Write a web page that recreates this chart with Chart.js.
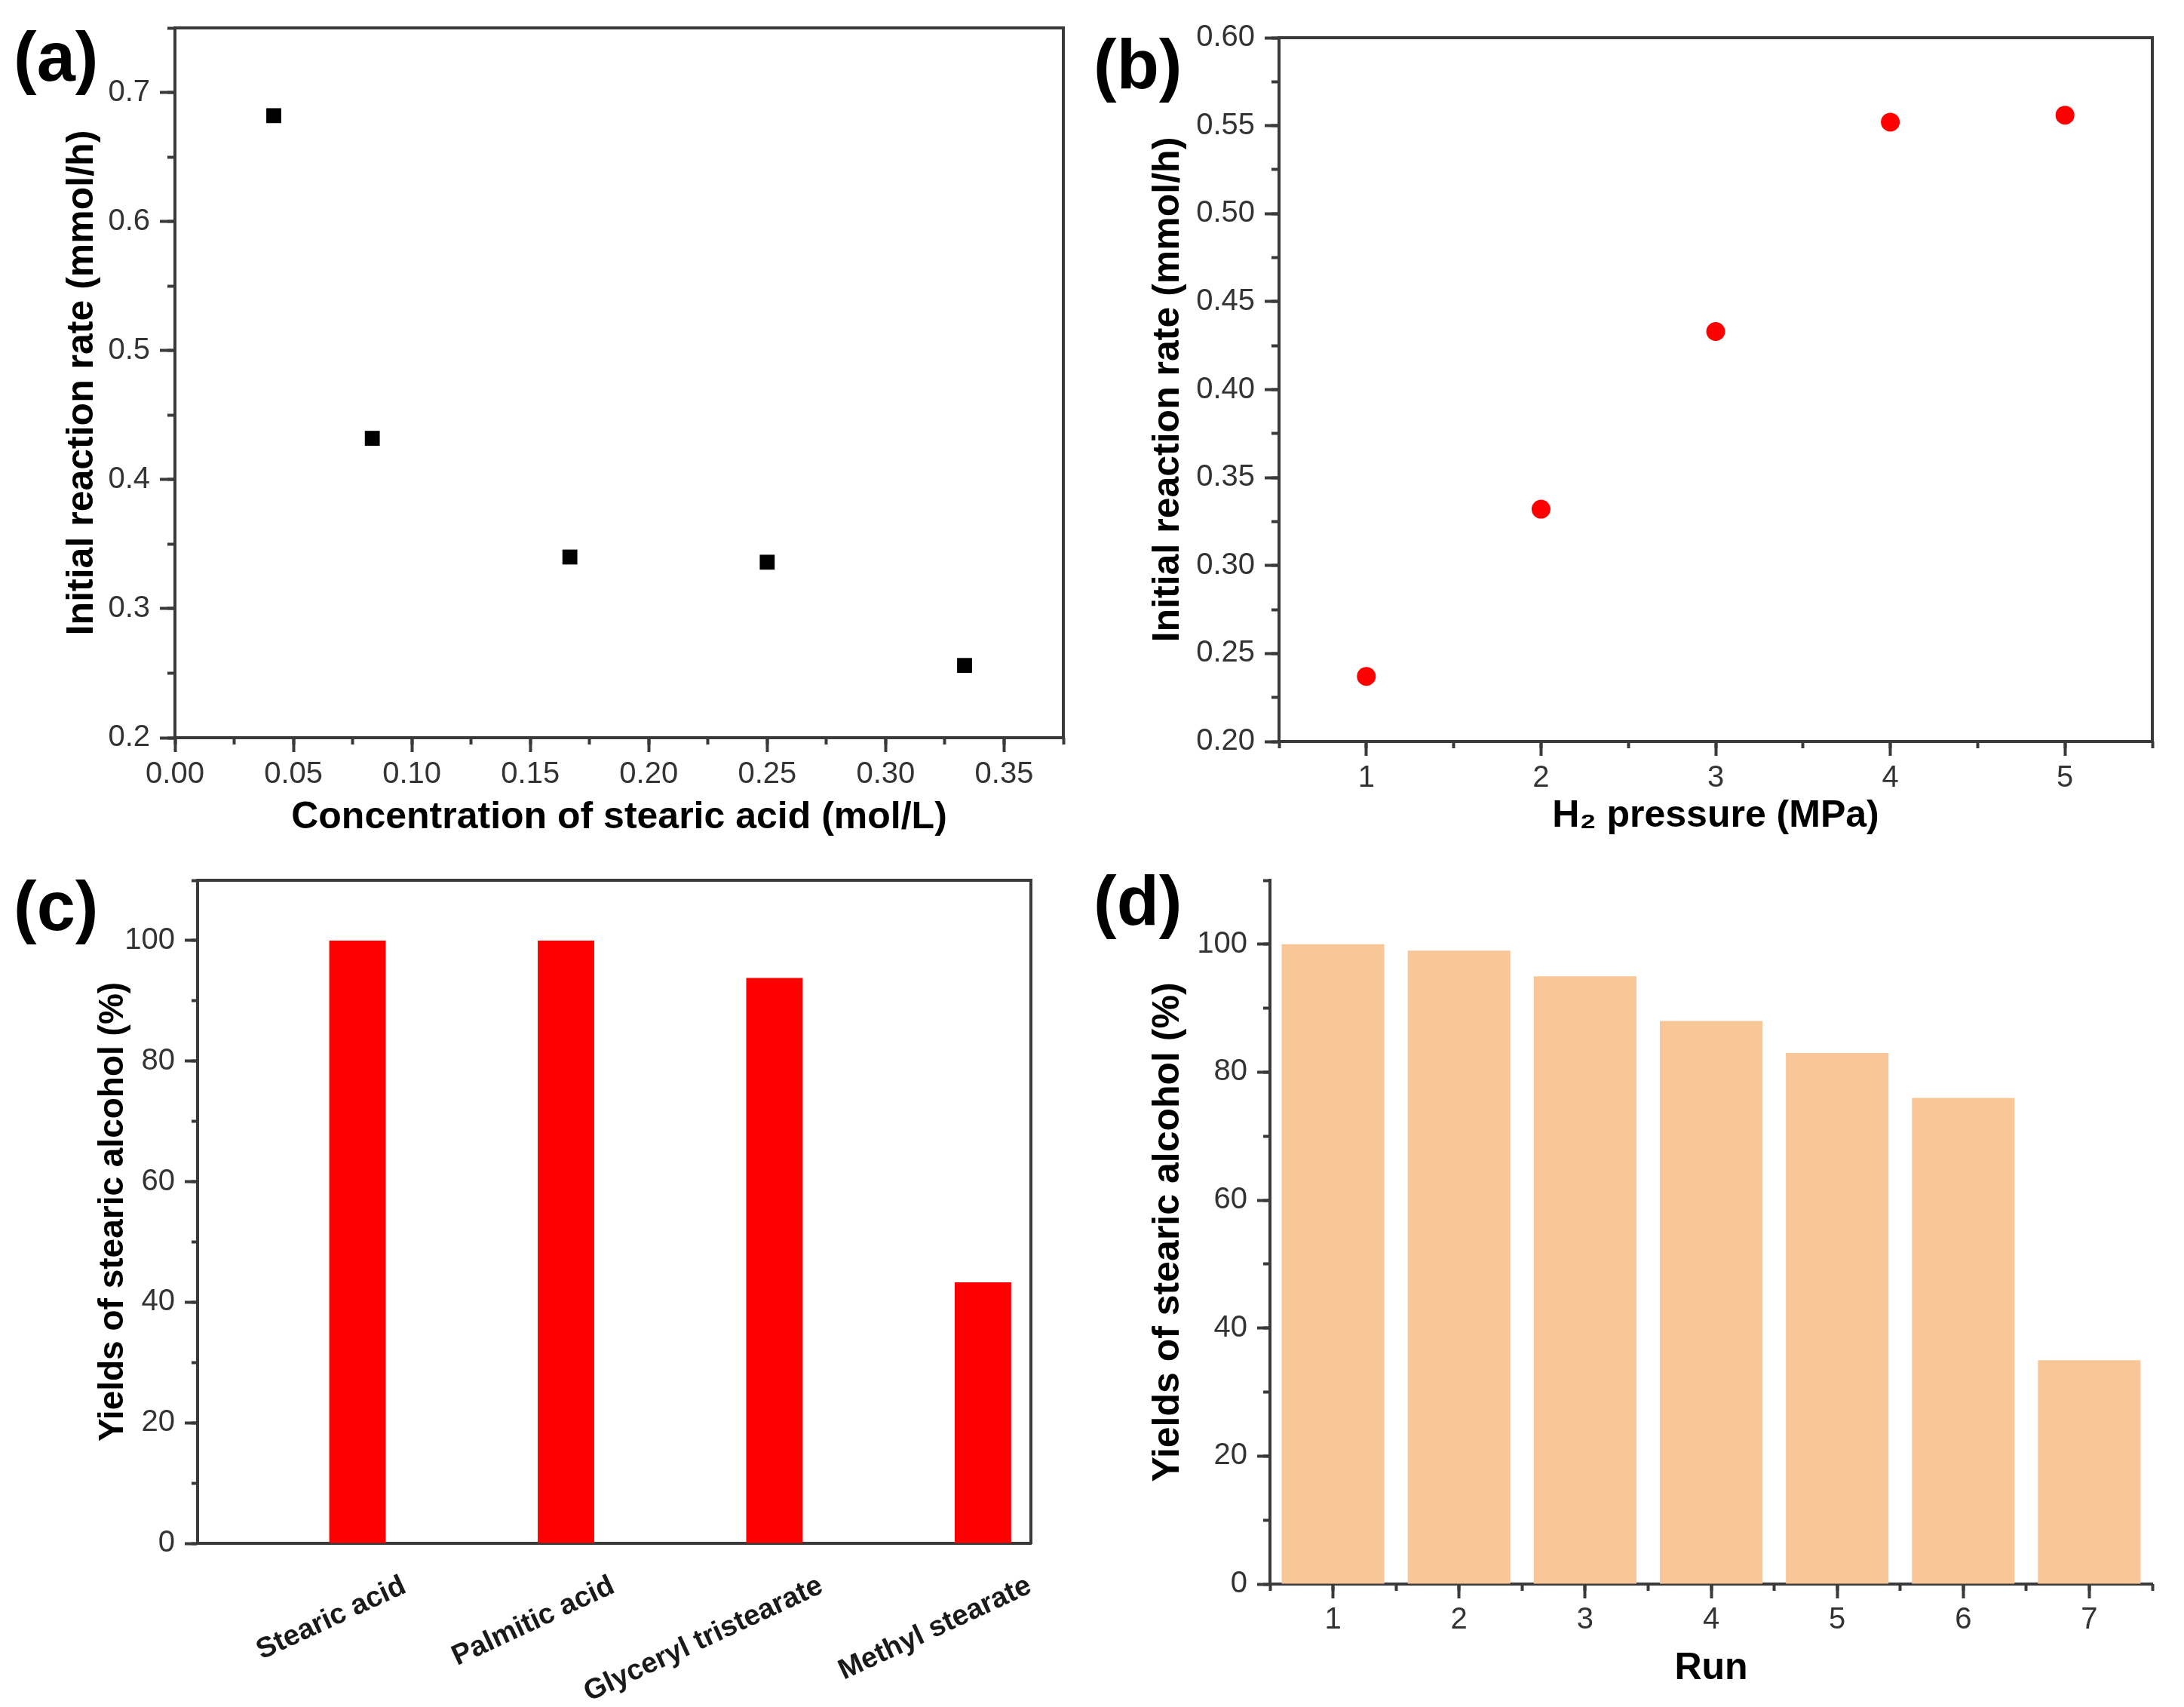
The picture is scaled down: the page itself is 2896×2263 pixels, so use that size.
<!DOCTYPE html>
<html>
<head>
<meta charset="utf-8">
<script src="https://cdn.jsdelivr.net/npm/chart.js@4.4.1/dist/chart.umd.min.js"></script>
<style>
html, body { margin:0; padding:0; background:#fff; width:2896px; height:2263px; overflow:hidden; }
canvas { position:absolute; }
.lbl { position:absolute; font-family:"Liberation Sans", Arial, Helvetica, sans-serif; font-weight:bold; font-size:92px; line-height:92px; color:#000; white-space:nowrap; }
</style>
</head>
<body>
<div class="lbl" style="left:18px;top:29px;">(a)</div>
<div class="lbl" style="left:1450px;top:39px;">(b)</div>
<div class="lbl" style="left:18px;top:1155px;">(c)</div>
<div class="lbl" style="left:1450px;top:1148px;">(d)</div>

<canvas id="ca" width="1371" height="1114" style="left:79px;top:0px;width:1371px;height:1114px;"></canvas>
<canvas id="cb" width="1377" height="1112" style="left:1519px;top:0px;width:1377px;height:1112px;"></canvas>
<canvas id="cc" width="1297" height="1133" style="left:123px;top:1130px;width:1297px;height:1133px;"></canvas>
<canvas id="cd" width="1377" height="1112" style="left:1519px;top:1130px;width:1377px;height:1112px;"></canvas>

<script>
// ---------------- data ----------------
const concentrationA = [0.0417, 0.0833, 0.1667, 0.25, 0.3333];
const rateA = [0.682, 0.432, 0.340, 0.336, 0.256];

const pressureB = [1, 2, 3, 4, 5];
const rateB = [0.237, 0.332, 0.433, 0.552, 0.556];

const substratesC = ['Stearic acid', 'Palmitic acid', 'Glyceryl tristearate', 'Methyl stearate'];
const positionsC = [1, 2, 3, 4];
const yieldC = [100, 100, 93.8, 43.3];

const runsD = [1, 2, 3, 4, 5, 6, 7];
const yieldD = [100, 99, 95, 88, 83, 76, 35];

// ---------------- tick values ----------------
const ticksAx = [0, 0.05, 0.10, 0.15, 0.20, 0.25, 0.30, 0.35];
const minorAx = [0, 0.025, 0.05, 0.075, 0.10, 0.125, 0.15, 0.175, 0.20, 0.225, 0.25, 0.275, 0.30, 0.325, 0.35, 0.375];
const ticksAy = [0.2, 0.3, 0.4, 0.5, 0.6, 0.7];
const minorAy = [0.2, 0.25, 0.3, 0.35, 0.4, 0.45, 0.5, 0.55, 0.6, 0.65, 0.7, 0.75];

const ticksBx = [1, 2, 3, 4, 5];
const minorBx = [0.5, 1, 1.5, 2, 2.5, 3, 3.5, 4, 4.5, 5, 5.5];
const ticksBy = [0.20, 0.25, 0.30, 0.35, 0.40, 0.45, 0.50, 0.55, 0.60];
const minorBy = [0.200, 0.225, 0.250, 0.275, 0.300, 0.325, 0.350, 0.375, 0.400, 0.425, 0.450, 0.475, 0.500, 0.525, 0.550, 0.575, 0.600];

const ticksYield = [0, 20, 40, 60, 80, 100];
const minorYield = [0, 10, 20, 30, 40, 50, 60, 70, 80, 90, 100, 110];

const ticksDx = [1, 2, 3, 4, 5, 6, 7];
const minorDx = [0.5, 1, 1.5, 2, 2.5, 3, 3.5, 4, 4.5, 5, 5.5, 6, 6.5, 7, 7.5];

// ---------------- styling helpers ----------------
const FONT = '"Liberation Sans", Arial, Helvetica, sans-serif';
const AX = '#3a3a3a';
Chart.defaults.font.family = FONT;
Chart.defaults.color = '#333';

function setTicks(values) {
  return s => { s.ticks = values.map(v => ({ value: v })); };
}
function isH(pos) { return pos === 'top' || pos === 'bottom'; }

function mainAxis(o) {
  return {
    type: 'linear', position: o.pos, min: o.min, max: o.max, weight: 2,
    bounds: 'data', offset: false,
    afterBuildTicks: setTicks(o.values),
    afterFit: s => { if (isH(o.pos)) s.height = o.size; else s.width = o.size; },
    grid: { display: true, offset: false, drawOnChartArea: false, drawTicks: o.tl > 0, tickLength: o.tl, tickColor: AX, tickWidth: 4 },
    border: { display: true, color: AX, width: 4 },
    ticks: {
      autoSkip: false, padding: o.pad, color: o.tickColor || '#333',
      font: { size: o.tickSize || 40, family: FONT, weight: o.tickWeight || 'normal' },
      minRotation: o.rot || 0, maxRotation: o.rot || 0,
      labelOffset: o.labelOffset || 0,
      callback: o.fmt
    },
    title: o.title ? { display: true, text: o.title, color: '#000', padding: 0,
      font: { size: o.titleSize || 50, weight: 'bold', family: FONT, lineHeight: 1.2 } } : { display: false }
  };
}
function minorAxis(pos, min, max, values, tl) {
  return {
    type: 'linear', position: pos, min: min, max: max, weight: 0,
    bounds: 'data', offset: false,
    afterBuildTicks: setTicks(values),
    afterFit: s => { if (isH(pos)) s.height = 0; else s.width = 0; },
    grid: { display: true, offset: false, drawOnChartArea: false, drawTicks: true, tickLength: tl, tickColor: AX, tickWidth: 4 },
    border: { display: false },
    ticks: { display: false }
  };
}
function frameAxis(pos, min, max) {
  return {
    type: 'linear', position: pos, min: min, max: max, weight: 0,
    bounds: 'data', offset: false,
    afterBuildTicks: setTicks([min, max]),
    afterFit: s => { if (isH(pos)) s.height = 0; else s.width = 0; },
    grid: { display: true, offset: false, drawOnChartArea: false, drawTicks: false },
    border: { display: true, color: AX, width: 4 },
    ticks: { display: false }
  };
}
const commonPlugins = { legend: { display: false }, tooltip: { enabled: false } };

// ---------------- (a) ----------------
new Chart(document.getElementById('ca'), {
  type: 'scatter',
  data: { datasets: [{
    data: concentrationA.map((x, i) => ({ x: x, y: rateA[i] })),
    pointStyle: 'rect', pointRadius: 14, backgroundColor: '#000', borderWidth: 0
  }] },
  options: {
    responsive: false, animation: false,
    layout: { padding: { top: 33, right: 40, left: 0, bottom: 0 } },
    plugins: commonPlugins,
    scales: {
      x: mainAxis({ pos: 'bottom', min: 0, max: 0.375, values: ticksAx, size: 136, tl: 19, pad: 6,
        fmt: v => v.toFixed(2), title: 'Concentration of stearic acid (mol/L)' }),
      xm: minorAxis('bottom', 0, 0.375, minorAx, 9),
      xt: frameAxis('top', 0, 0.375),
      y: mainAxis({ pos: 'left', min: 0.2, max: 0.75, values: ticksAy, size: 153, tl: 20, pad: 13,
        fmt: v => v.toFixed(1), title: 'Initial reaction rate (mmol/h)' }),
      ym: minorAxis('left', 0.2, 0.75, minorAy, 10),
      yr: frameAxis('right', 0.2, 0.75)
    }
  }
});

// ---------------- (b) ----------------
new Chart(document.getElementById('cb'), {
  type: 'scatter',
  data: { datasets: [{
    data: pressureB.map((x, i) => ({ x: x, y: rateB[i] })),
    pointStyle: 'circle', pointRadius: 12.5, backgroundColor: '#ff0000', borderWidth: 0
  }] },
  options: {
    responsive: false, animation: false,
    layout: { padding: { top: 50, right: 42, left: 0, bottom: 0 } },
    plugins: commonPlugins,
    scales: {
      x: mainAxis({ pos: 'bottom', min: 0.5, max: 5.5, values: ticksBx, size: 129, tl: 19, pad: 6,
        fmt: v => String(v), title: 'H\u2082 pressure (MPa)' }),
      xm: minorAxis('bottom', 0.5, 5.5, minorBx, 9),
      xt: frameAxis('top', 0.5, 5.5),
      y: mainAxis({ pos: 'left', min: 0.2, max: 0.6, values: ticksBy, size: 177, tl: 19, pad: 13,
        fmt: v => v.toFixed(2), title: 'Initial reaction rate (mmol/h)' }),
      ym: minorAxis('left', 0.2, 0.6, minorBy, 10),
      yr: frameAxis('right', 0.2, 0.6)
    }
  }
});

// ---------------- (c) ----------------
new Chart(document.getElementById('cc'), {
  type: 'bar',
  data: { datasets: [{
    data: positionsC.map((x, i) => ({ x: x, y: yieldC[i] })),
    backgroundColor: '#ff0000', borderWidth: 0, barPercentage: 0.271, categoryPercentage: 1
  }] },
  options: {
    responsive: false, animation: false,
    layout: { padding: { top: 28, right: 53, left: 0, bottom: 0 } },
    plugins: commonPlugins,
    scales: {
      x: mainAxis({ pos: 'bottom', min: 0.233, max: 4.23, values: positionsC, size: 217, tl: 0, pad: 34,
        rot: 25, labelOffset: 62, tickSize: 38, tickWeight: 'bold', tickColor: '#1a1a1a',
        fmt: v => substratesC[positionsC.indexOf(v)] }),
      xt: frameAxis('top', 0.233, 4.23),
      y: mainAxis({ pos: 'left', min: 0, max: 110, values: ticksYield, size: 139, tl: 17, pad: 13,
        fmt: v => String(v), title: 'Yields of stearic alcohol (%)', titleSize: 46 }),
      ym: minorAxis('left', 0, 110, minorYield, 8),
      yr: frameAxis('right', 0, 110)
    }
  }
});

// ---------------- (d) ----------------
new Chart(document.getElementById('cd'), {
  type: 'bar',
  data: { datasets: [{
    data: runsD.map((x, i) => ({ x: x, y: yieldD[i] })),
    backgroundColor: '#f9c797', borderWidth: 0, barPercentage: 0.814, categoryPercentage: 1
  }] },
  options: {
    responsive: false, animation: false,
    layout: { padding: { top: 29, right: 42, left: 0, bottom: 0 } },
    plugins: commonPlugins,
    scales: {
      x: mainAxis({ pos: 'bottom', min: 0.5, max: 7.5, values: ticksDx, size: 142, tl: 19, pad: 5,
        fmt: v => String(v), title: 'Run' }),
      xm: minorAxis('bottom', 0.5, 7.5, minorDx, 9),
      y: mainAxis({ pos: 'left', min: 0, max: 110, values: ticksYield, size: 165, tl: 17, pad: 13,
        fmt: v => String(v), title: 'Yields of stearic alcohol (%)' }),
      ym: minorAxis('left', 0, 110, minorYield, 9)
    }
  }
});
</script>
</body>
</html>
